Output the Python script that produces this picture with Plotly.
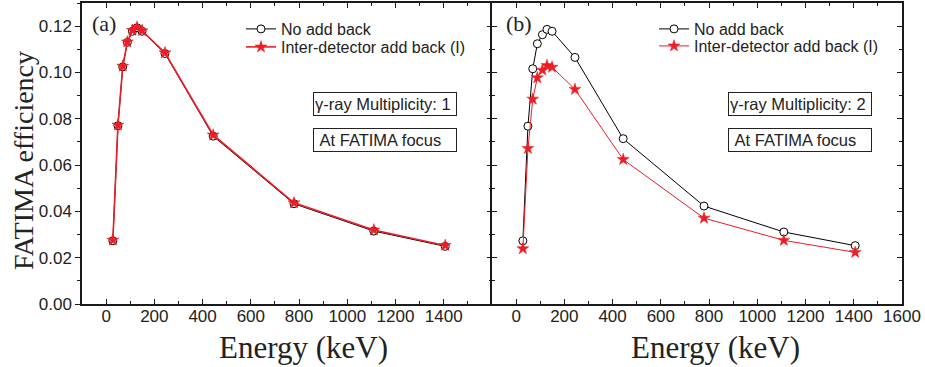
import plotly.graph_objects as go

# ---------------- data ----------------
energy = [28, 49, 69, 88, 109, 128, 149, 244, 444, 779, 1110, 1406]

noab_m1 = [0.0273, 0.0770, 0.1024, 0.1130, 0.1178, 0.1193, 0.1178, 0.1082, 0.0725, 0.0433, 0.0315, 0.0249]
ab_m1 = [0.0276, 0.0773, 0.1027, 0.1132, 0.1182, 0.1196, 0.1180, 0.1085, 0.0730, 0.0437, 0.0320, 0.0253]

noab_m2 = [0.0273, 0.0768, 0.1016, 0.1124, 0.1163, 0.1186, 0.1178, 0.1065, 0.0714, 0.0423, 0.0311, 0.0252]
ab_m2 = [0.0239, 0.0672, 0.0885, 0.0977, 0.1010, 0.1030, 0.1023, 0.0927, 0.0624, 0.0371, 0.0275, 0.0223]

name_noab = "No add back"
name_ab = "Inter-detector add back (I)"
xticks_a = [0, 200, 400, 600, 800, 1000, 1200, 1400]
xticks_b = [0, 200, 400, 600, 800, 1000, 1200, 1400, 1600]
yticks = [0.00, 0.02, 0.04, 0.06, 0.08, 0.10, 0.12]

# ---------------- styling ----------------
W, H = 925, 367
def px(x):
    return x / W
def py(y):
    return 1 - y / H

RED = "#ee1c25"
SANS = "Liberation Sans, Arial, sans-serif"
SERIF = "Liberation Serif, Times New Roman, serif"
AXC = "#1a1a1a"

fig = go.Figure()

def circ():
    return dict(symbol="circle", size=8, color="white", line=dict(color="black", width=1))
def star():
    return dict(symbol="star", size=9, color=RED, line=dict(color=RED, width=0.5))

fig.add_trace(go.Scatter(x=energy, y=noab_m1, mode="lines+markers", name=name_noab,
                         line=dict(color="black", width=1), marker=circ(),
                         xaxis="x", yaxis="y", legend="legend"))
fig.add_trace(go.Scatter(x=energy, y=ab_m1, mode="lines+markers", name=name_ab,
                         line=dict(color=RED, width=1.6), marker=star(),
                         xaxis="x", yaxis="y", legend="legend2"))
fig.add_trace(go.Scatter(x=energy, y=noab_m2, mode="lines+markers", name=name_noab,
                         line=dict(color="black", width=1), marker=circ(),
                         xaxis="x2", yaxis="y2", legend="legend3"))
fig.add_trace(go.Scatter(x=energy, y=ab_m2, mode="lines+markers", name=name_ab,
                         line=dict(color=RED, width=1), marker=star(),
                         xaxis="x2", yaxis="y2", legend="legend4"))
# dummy trace to realise the right-hand tick axis of panel (a)
fig.add_trace(go.Scatter(x=[], y=[], xaxis="x", yaxis="y3", showlegend=False, hoverinfo="skip"))

ydom = [py(304), py(3)]
common_x = dict(range=[-100, 1600], showgrid=False, zeroline=False, showline=True, automargin=False,
                linecolor=AXC, linewidth=1.5, mirror="ticks", ticks="inside",
                ticklen=5, tickwidth=1, tickcolor=AXC, ticklabelstandoff=-4,
                tickfont=dict(family=SANS, size=17, color="#222"),
                minor=dict(tickmode="linear", tick0=0, dtick=100, ticks="inside",
                           ticklen=3, tickcolor=AXC, tickwidth=1))
common_y = dict(range=[0, 0.13], domain=ydom, showgrid=False, zeroline=False, showline=True,
                automargin=False,
                linecolor=AXC, linewidth=1.5, ticklen=5, tickwidth=1, tickcolor=AXC,
                tickmode="array", tickvals=yticks, tickformat=".2f",
                tickfont=dict(family=SANS, size=17, color="#222"))

fig.update_layout(
    template="none",
    width=W, height=H, margin=dict(l=0, r=0, t=0, b=0, pad=0, autoexpand=False),
    paper_bgcolor="white", plot_bgcolor="white",
    xaxis=dict(domain=[px(82), px(492)], anchor="y", tickmode="array", tickvals=xticks_a, **common_x),
    xaxis2=dict(domain=[px(492), px(902)], anchor="y2", tickmode="array", tickvals=xticks_b, **common_x),
    yaxis=dict(anchor="x", ticks="outside", mirror=False,
               minor=dict(tickmode="linear", tick0=0, dtick=0.01, ticks="outside", ticklen=3,
                          tickcolor=AXC, tickwidth=1), **common_y),
    yaxis2=dict(anchor="x2", ticks="inside", mirror="ticks", showticklabels=False,
                minor=dict(tickmode="linear", tick0=0, dtick=0.01, ticks="inside", ticklen=3,
                           tickcolor=AXC, tickwidth=1), **common_y),
    yaxis3=dict(anchor="x", overlaying="y", side="right", ticks="inside", showticklabels=False,
                showline=False, range=[0, 0.13], tickmode="array", tickvals=yticks, automargin=False,
                ticklen=5, tickwidth=1, tickcolor=AXC, showgrid=False, zeroline=False,
                minor=dict(tickmode="linear", tick0=0, dtick=0.01, ticks="inside", ticklen=3,
                           tickcolor=AXC, tickwidth=1)),
    showlegend=True,
)

leg_common = dict(font=dict(family=SANS, size=16, color="#222"), bgcolor="rgba(0,0,0,0)",
                  borderwidth=0, xanchor="left", yanchor="middle")
fig.update_layout(
    legend=dict(x=px(241), y=py(29), **leg_common),
    legend2=dict(x=px(241), y=py(47), **leg_common),
    legend3=dict(x=px(654), y=py(29), **leg_common),
    legend4=dict(x=px(654), y=py(46), **leg_common),
)

ann = []
# axis titles
ann.append(dict(text="FATIMA efficiency", x=px(24), y=py(161), xref="paper", yref="paper",
                textangle=-90, showarrow=False, font=dict(family=SERIF, size=28, color="#222"),
                xanchor="center", yanchor="middle"))
ann.append(dict(text="Energy (keV)", x=px(303), y=py(347), xref="paper", yref="paper",
                showarrow=False, font=dict(family=SERIF, size=31, color="#222"),
                xanchor="center", yanchor="middle"))
ann.append(dict(text="Energy (keV)", x=px(715), y=py(347), xref="paper", yref="paper",
                showarrow=False, font=dict(family=SERIF, size=31, color="#222"),
                xanchor="center", yanchor="middle"))
# panel labels
ann.append(dict(text="(a)", x=px(104), y=py(24), xref="paper", yref="paper", showarrow=False,
                font=dict(family=SERIF, size=22, color="#222"), xanchor="center", yanchor="middle"))
ann.append(dict(text="(b)", x=px(519), y=py(24), xref="paper", yref="paper", showarrow=False,
                font=dict(family=SERIF, size=22, color="#222"), xanchor="center", yanchor="middle"))
# boxed notes
box_font = dict(family=SANS, size=16.5, color="#222")
for (x0, labels) in [(313, ["γ-ray Multiplicity: 1", "\u00a0At FATIMA focus"]),
                     (728, ["γ-ray Multiplicity: 2", "\u00a0At FATIMA focus"])]:
    for (yc, t) in zip([103.5, 140], labels):
        ann.append(dict(text=t, x=px(x0), y=py(yc), xref="paper", yref="paper", showarrow=False,
                        font=box_font, xanchor="left", yanchor="middle", align="left",
                        width=140, height=20, borderpad=1, bordercolor="#222", borderwidth=1,
                        bgcolor="white"))
fig.update_layout(annotations=ann)

fig.write_html("out.html")
